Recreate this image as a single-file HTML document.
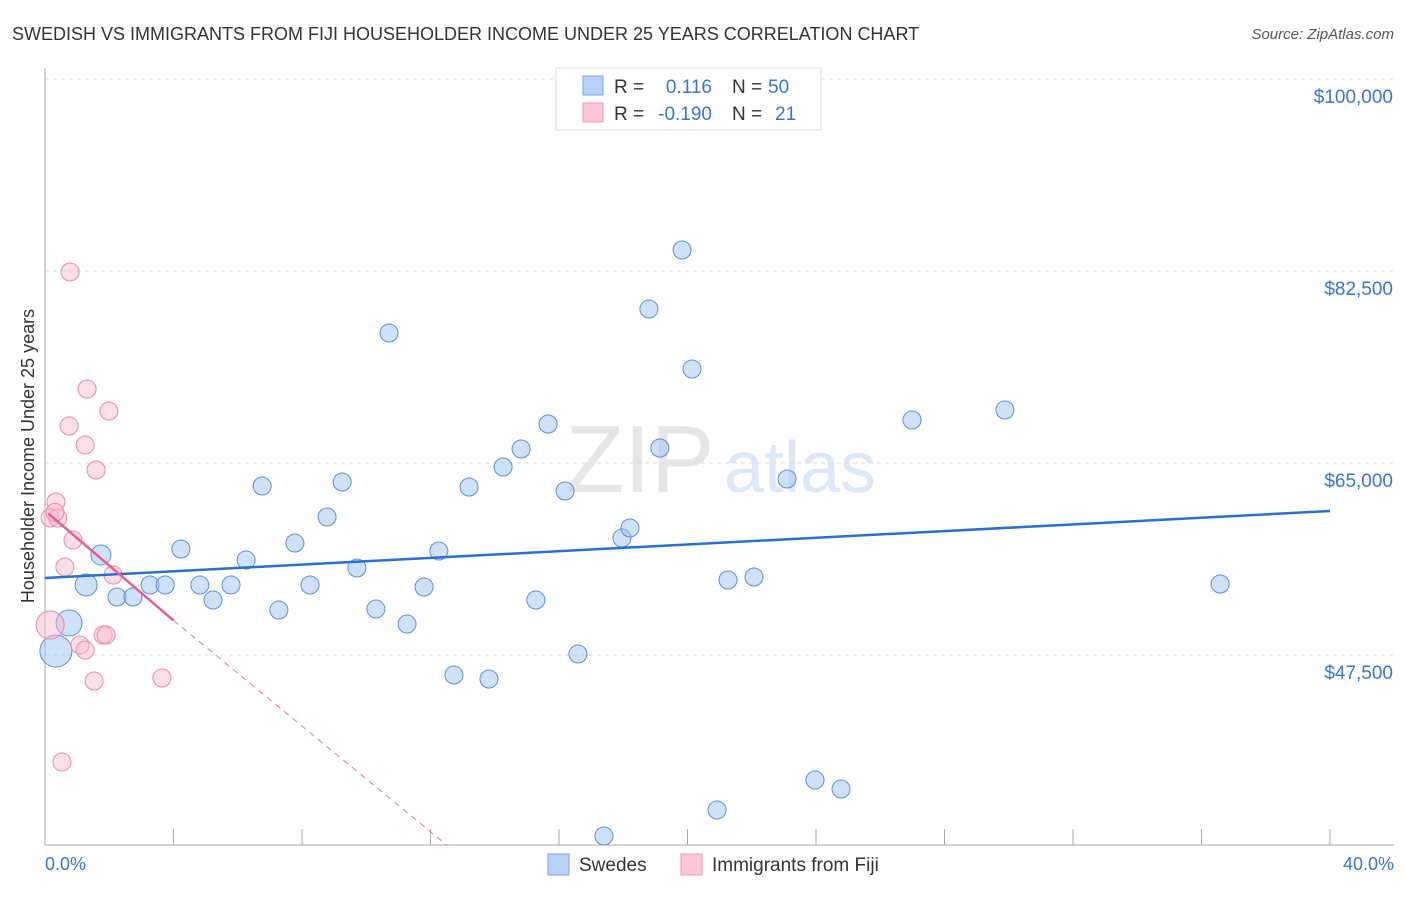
<!DOCTYPE html>
<html><head><meta charset="utf-8"><style>
body{margin:0;background:#fff;font-family:"Liberation Sans",sans-serif;}
svg text{font-family:"Liberation Sans",sans-serif;}
</style></head><body>
<svg id="chart" width="1406" height="892" xmlns="http://www.w3.org/2000/svg">
<text x="12" y="40" font-size="18" fill="#333">SWEDISH VS IMMIGRANTS FROM FIJI HOUSEHOLDER INCOME UNDER 25 YEARS CORRELATION CHART</text>
<text x="1394" y="39" font-size="15" fill="#555" font-style="italic" text-anchor="end">Source: ZipAtlas.com</text>
<text x="640" y="492" font-size="96" fill="#e6e6e6" font-family="Liberation Serif" text-anchor="middle">ZIP</text>
<text x="800" y="492" font-size="72" fill="#dce8f7" text-anchor="middle">atlas</text>
<g id="grid"></g>
<line x1="45" y1="68" x2="45" y2="845" stroke="#aaa"/>
<line x1="45" y1="845" x2="1394" y2="845" stroke="#aaa"/>
<g id="ticks"></g>
<g id="trend"></g>
<g id="points"></g>
<text transform="translate(34,456) rotate(-90)" font-size="18" fill="#333" text-anchor="middle">Householder Income Under 25 years</text>
<text x="45" y="870" font-size="18" fill="#3a74d4">0.0%</text>
<text x="1394" y="870" font-size="18" fill="#3a74d4" text-anchor="end">40.0%</text>
<g>
<rect x="556" y="68" width="265" height="62" fill="#fff" stroke="#ddd"/>
<rect x="583" y="76" width="20" height="19" fill="#b8d1f5" stroke="#7aa5e6"/>
<rect x="583" y="103" width="20" height="19" fill="#fcc7d6" stroke="#f09ab4"/>
<text x="614" y="93" font-size="19" fill="#333">R =</text>
<text x="712" y="93" font-size="19" fill="#3a74d4" text-anchor="end">0.116</text>
<text x="732" y="93" font-size="19" fill="#333">N =</text>
<text x="768" y="93" font-size="19" fill="#3a74d4">50</text>
<text x="614" y="120" font-size="19" fill="#333">R =</text>
<text x="712" y="120" font-size="19" fill="#3a74d4" text-anchor="end">-0.190</text>
<text x="732" y="120" font-size="19" fill="#333">N =</text>
<text x="775" y="120" font-size="19" fill="#3a74d4">21</text>
</g>
<g>
<rect x="548" y="854" width="21" height="21" fill="#b8d1f5" stroke="#7aa5e6"/>
<text x="579" y="871" font-size="19" fill="#333">Swedes</text>
<rect x="681" y="854" width="21" height="21" fill="#fcc7d6" stroke="#f09ab4"/>
<text x="712" y="871" font-size="19" fill="#333">Immigrants from Fiji</text>
</g>
</svg>
<script>
const yTickValues=[47500,65000,82500,100000];
const yTickLabels=["$47,500","$65,000","$82,500","$100,000"];
const blueX=[0.34,0.75,1.28,1.74,2.24,2.74,3.27,3.74,4.23,4.82,5.23,5.79,6.26,6.76,7.28,7.78,8.25,8.78,9.25,9.71,10.30,10.71,11.27,11.80,12.26,12.73,13.20,13.82,14.26,14.82,15.28,15.66,16.19,16.59,17.40,17.96,18.21,18.80,19.14,19.83,20.14,20.92,21.26,22.07,23.10,23.97,24.78,26.99,29.88,36.58];
const blueY=[47862,50414,53878,56613,52784,52784,53878,53878,57159,53878,52511,53878,56157,62902,51599,57706,53878,60076,63267,55428,51690,76848,50323,53696,56977,45675,62811,45310,64634,66274,52511,68553,62446,47589,30999,58162,59074,79035,66366,84413,73566,33369,54334,54607,63540,36104,35283,68918,69829,53969];
const blueR=[16,13,11,10,9,9,9,9,9,9,9,9,9,9,9,9,9,9,9,9,9,9,9,9,9,9,9,9,9,9,9,9,9,9,9,9,9,9,9,9,9,9,9,9,9,9,9,9,9,9];
const pinkX=[0.78,1.31,1.99,0.75,1.25,1.59,0.34,0.16,0.40,0.87,0.62,2.12,0.16,1.09,1.25,1.81,1.90,1.53,3.64,0.53,0.31];
const pinkY=[82408,71743,69738,68371,66639,64360,61444,59985,59985,57980,55519,54790,50232,48409,47953,49321,49321,45128,45401,37745,60500];
const pinkR=[9,9,9,9,9,9,9,9,9,9,9,9,14,9,9,9,9,9,9,9,9];
const blueTrend=[[0,54517],[40,60624]];
const pinkTrendSolid=[[0.1,60400],[4.0,50650]];
const pinkTrendDash=[[4.0,50650],[12.5,30180]];

const NS="http://www.w3.org/2000/svg";
function xs(p){return 45+p*32.125;}
function ys(v){return 79+(100000-v)/91.15;}
function mk(tag,attrs,parent){const e=document.createElementNS(NS,tag);for(const k in attrs)e.setAttribute(k,attrs[k]);parent.appendChild(e);return e;}
const grid=document.getElementById('grid'),ticks=document.getElementById('ticks'),trend=document.getElementById('trend'),pts=document.getElementById('points');
yTickValues.forEach((v,i)=>{
 const l=mk('line',{x1:45,x2:1394,y1:ys(v),y2:ys(v),stroke:'#ddd','stroke-dasharray':'4,4'},grid);
 
 
 const t=mk('text',{x:1393,y:ys(v)+24,'font-size':19,fill:'#3a74d4','text-anchor':'end'},ticks);
 t.textContent=yTickLabels[i];
 
 
});
for(let i=1;i<=10;i++){
 const x=xs(i*4);
 const l=mk('line',{x1:x,x2:x,y1:829,y2:845,stroke:'#aaa'},ticks);
 
 
}
let tl=mk('line',{x1:xs(pinkTrendDash[0][0]),y1:ys(pinkTrendDash[0][1]),x2:xs(pinkTrendDash[1][0]),y2:ys(pinkTrendDash[1][1]),stroke:'#e8789b','stroke-width':1,'stroke-dasharray':'6,5'},trend);


for(let i=0;i<blueX.length;i++){
 const c=mk('circle',{cx:xs(blueX[i]),cy:ys(blueY[i]),r:blueR[i],fill:'rgba(160,195,240,0.5)',stroke:'#5b8fdc','stroke-width':1},pts);
 
 
}
for(let i=0;i<pinkX.length;i++){
 const c=mk('circle',{cx:xs(pinkX[i]),cy:ys(pinkY[i]),r:pinkR[i],fill:'rgba(250,185,205,0.45)',stroke:'#ec8aa9','stroke-width':1},pts);
 
 
}
tl=mk('line',{x1:xs(blueTrend[0][0]),y1:ys(blueTrend[0][1]),x2:xs(blueTrend[1][0]),y2:ys(blueTrend[1][1]),stroke:'#2a6fd6','stroke-width':2.5},pts);


tl=mk('line',{x1:xs(pinkTrendSolid[0][0]),y1:ys(pinkTrendSolid[0][1]),x2:xs(pinkTrendSolid[1][0]),y2:ys(pinkTrendSolid[1][1]),stroke:'#e5608b','stroke-width':2.5},pts);


</script>
</body></html>
